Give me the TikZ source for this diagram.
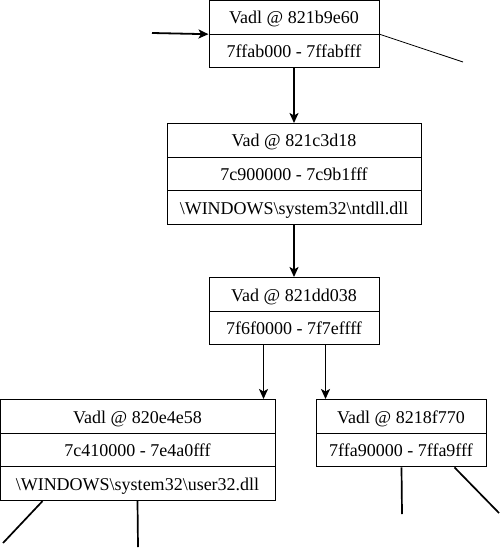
\documentclass[tikz,border=0pt]{standalone}
\usepackage{fontspec}
\setmainfont{Liberation Serif}
\usetikzlibrary{shapes.multipart,arrows.meta}
\newcommand{\cellstrut}{\rule[-9.7pt]{0pt}{32.7pt}}
\tikzset{
  vadbox/.style={draw, line width=1pt, rectangle split, rectangle split parts=2,
    rectangle split draw splits, inner ysep=0pt, inner xsep=4pt, anchor=north,
    font=\fontsize{18}{20}\selectfont},
  link/.style={-{Stealth[length=10pt,width=9pt,inset=2.5pt]}, line width=1.8pt},
  stub/.style={line width=1.7pt}
}
\begin{document}
\begin{tikzpicture}[x=1pt,y=-1pt]
\useasboundingbox (0,0) rectangle (500,548);
% the tree of vads, top down
\node[vadbox, minimum width=170pt] (root) at (294,0)
  {\cellstrut Vadl @ 821b9e60 \nodepart{two}\cellstrut 7ffab000 - 7ffabfff};
\node[vadbox, rectangle split parts=3, minimum width=254pt] (ntdll) at (294,123)
  {\cellstrut Vad @ 821c3d18 \nodepart{two}\cellstrut 7c900000 - 7c9b1fff
   \nodepart{three}\cellstrut \textbackslash WINDOWS\textbackslash system32\textbackslash ntdll.dll};
\node[vadbox, minimum width=170pt] (mid) at (294,277)
  {\cellstrut Vad @ 821dd038 \nodepart{two}\cellstrut 7f6f0000 - 7f7effff};
\node[vadbox, rectangle split parts=3, minimum width=275pt] (user32) at (137.5,399)
  {\cellstrut Vadl @ 820e4e58 \nodepart{two}\cellstrut 7c410000 - 7e4a0fff
   \nodepart{three}\cellstrut \textbackslash WINDOWS\textbackslash system32\textbackslash user32.dll};
\node[vadbox, minimum width=170pt] (right) at (401,399)
  {\cellstrut Vadl @ 8218f770 \nodepart{two}\cellstrut 7ffa90000 - 7ffa9fff};
% free ends
\coordinate (in) at (152,33);
\coordinate (up) at (463,62);
\draw[link] (in) -- (root.text split west);
\draw[line width=0.8pt] (root.text split east) -- (up);
\draw[link] (root.south) -- (ntdll.north);
\draw[link] (ntdll.south) -- (mid.north);
\draw[link] ([xshift=55pt]mid.south west) -- ([xshift=55pt]mid.south west |- user32.north);
\draw[link] ([xshift=117pt]mid.south west) -- ([xshift=117pt]mid.south west |- right.north);
% children that are cut off
\coordinate (ll) at (3,543);
\coordinate (lr) at (138,547);
\coordinate (rl) at (402,514);
\coordinate (rr) at (499,513);
\draw[stub] ([xshift=43pt]user32.south west) -- (ll);
\draw[stub] ([xshift=138pt]user32.south west) -- (lr);
\draw[stub] ([xshift=86pt]right.south west) -- (rl);
\draw[stub] ([xshift=139pt]right.south west) -- (rr);
\end{tikzpicture}
\end{document}
